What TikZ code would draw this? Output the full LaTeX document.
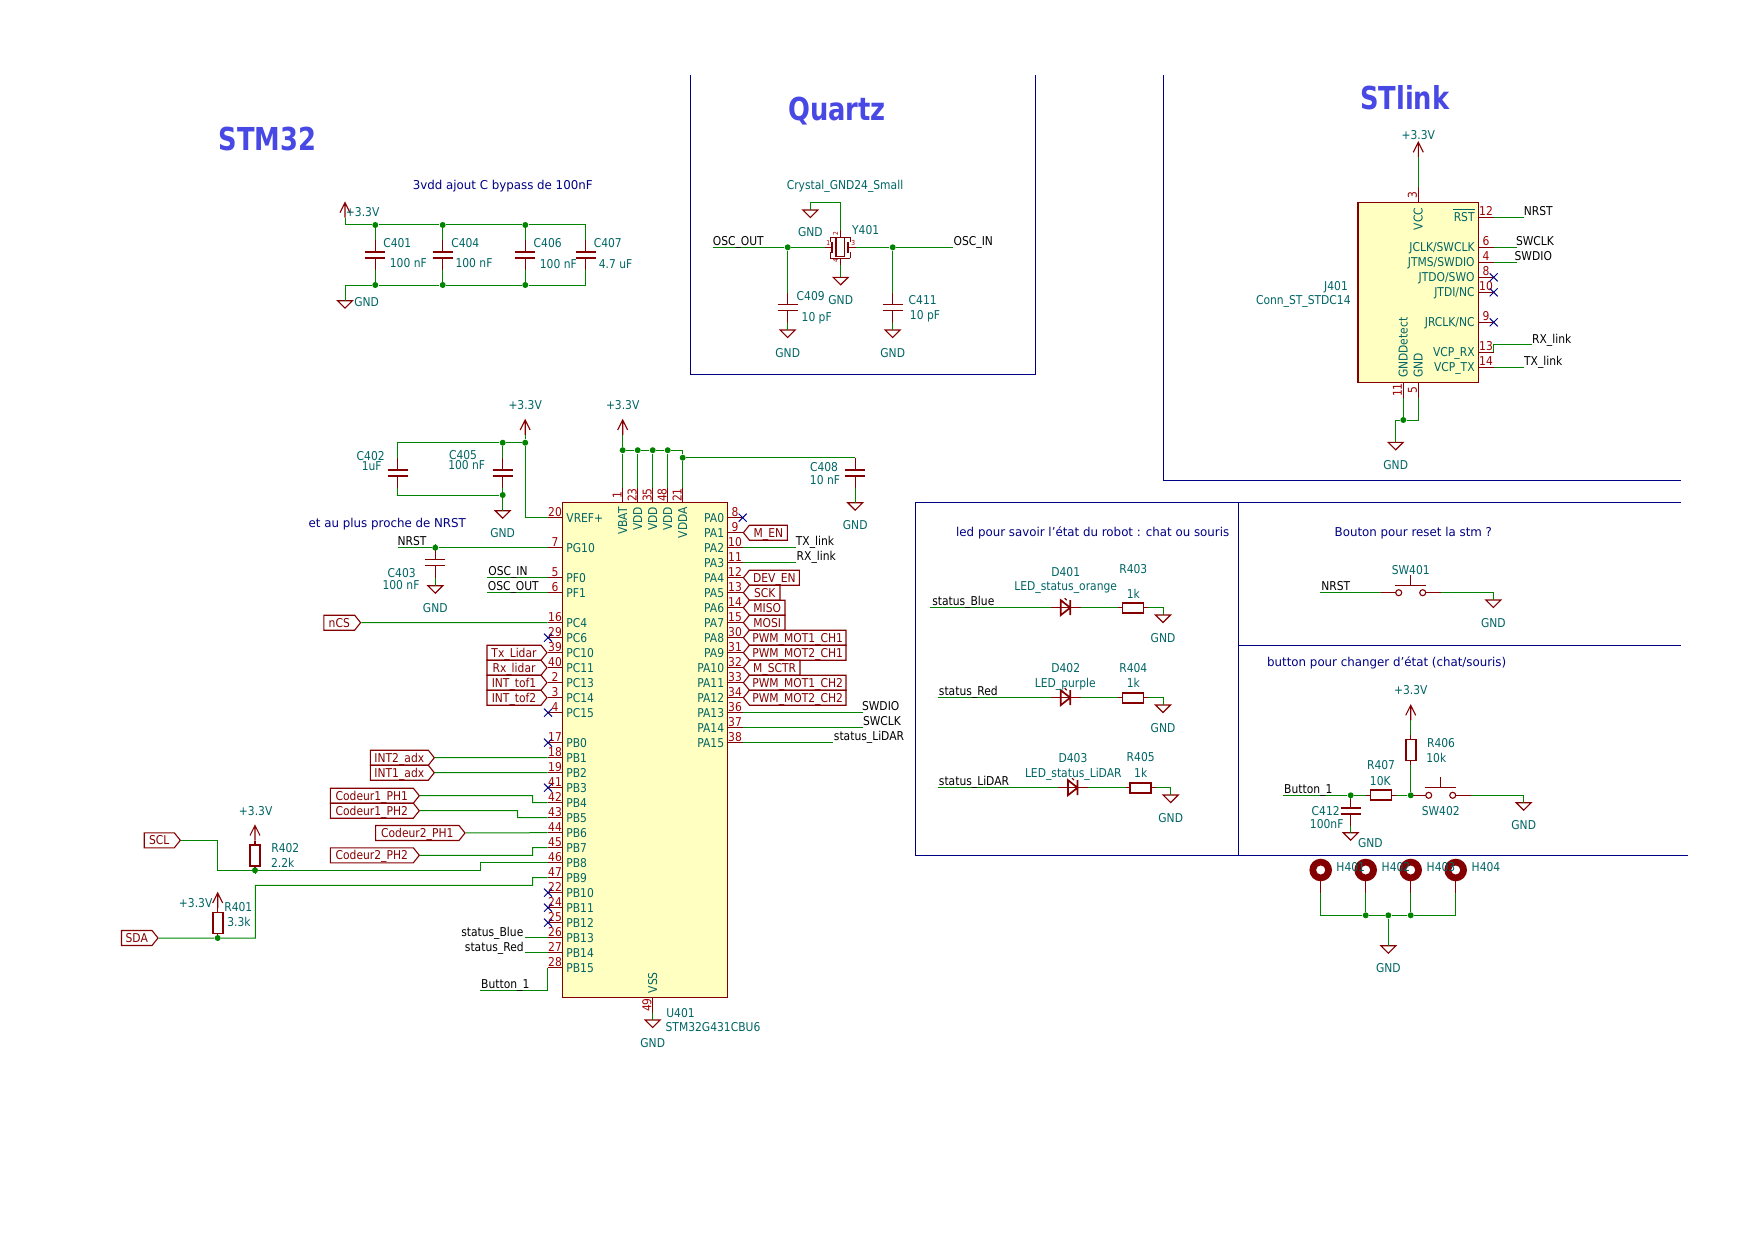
\documentclass[tikz,border=0pt]{standalone}
\usepackage{fontspec}
\setmainfont{DejaVu Sans}[FakeStretch=0.88]
\newfontfamily\notefont{DejaVu Sans}[FakeStretch=0.97]
\newfontfamily\titlefont{DejaVu Sans Bold}[FakeStretch=0.815]
\usetikzlibrary{shapes.symbols}
\definecolor{symline}{RGB}{132,0,0}
\definecolor{chipfill}{RGB}{255,255,194}
\definecolor{wirecol}{RGB}{0,132,0}
\definecolor{valcol}{RGB}{0,100,100}
\definecolor{notecol}{RGB}{0,0,132}
\definecolor{numcol}{RGB}{160,0,0}
\definecolor{titlecol}{RGB}{72,72,228}

\begin{document}
\begin{tikzpicture}[x=0.5pt, y=-0.5pt,
  pinl/.style={draw=symline, line width=0.55pt},
  plate/.style={draw=symline, line width=0.85pt},
  wire/.style={draw=wirecol, line width=0.5pt},
  sheet/.style={draw=notecol, line width=0.5pt},
  nc/.style={draw=notecol, line width=0.5pt},
  chip/.style={draw=symline, line width=0.75pt, fill=chipfill, inner sep=0pt},
  junc/.style={circle, fill=wirecol, minimum size=3pt, inner sep=0pt},
  txt/.style={font=\fontsize{6.1}{7}\selectfont, inner sep=0pt, text height=4.4pt, text depth=0pt},
  val/.style={txt, text=valcol},
  num/.style={txt, text=numcol},
  net/.style={txt, text=black},
  note/.style={txt, font=\notefont\fontsize{6.1}{7}\selectfont, text=notecol},
  ttl/.style={font=\titlefont\fontsize{15.8}{18}\selectfont, text=titlecol, inner sep=0pt},
  hlab/.style={txt, text=symline, shape=signal, draw=symline, line width=0.55pt,
               signal pointer angle=103, inner xsep=1.5pt, inner ysep=0pt, minimum height=7.5pt},
  gndp/.pic={\coordinate (-a) at (0,0);
    \draw[pinl] (-7.5,0) -- (7.5,0) -- (0,7.5) -- cycle;},
  pwrp/.pic={\coordinate (-a) at (0,0);
    \draw[pinl] (0,0) -- (0,-15) (-5,-5) -- (0,-15) -- (5,-5);},
  capv/.pic={\coordinate (-a) at (0,-15); \coordinate (-b) at (0,15);
    \draw[pinl] (-a) -- (0,-3) (0,3) -- (-b);
    \draw[plate] (-10,-3) -- (10,-3) (-10,3) -- (10,3);},
  resv/.pic={\coordinate (-a) at (0,-15); \coordinate (-b) at (0,15);
    \draw[pinl] (-a) -- (0,-10.5) (0,10.5) -- (-b);
    \draw[plate] (-5,-10.5) rectangle (5,10.5);},
  resh/.pic={\coordinate (-a) at (-15,0); \coordinate (-b) at (15,0);
    \draw[pinl] (-a) -- (-10.5,0) (10.5,0) -- (-b);
    \draw[plate] (-10.5,-5) rectangle (10.5,5);},
  ledp/.pic={\coordinate (-a) at (-15,0); \coordinate (-b) at (15,0);
    \draw[pinl] (-a) -- (-b);
    \draw[plate] (-5,-7.5) -- (4.5,0) -- (-5,7.5) -- cycle (4.5,-7.5) -- (4.5,7.5);
    \draw[pinl] (1,-7.5) -- (-1,-9.5) (-2,-5) -- (-4,-7);},
  swtp/.pic={\coordinate (-a) at (-30,0); \coordinate (-b) at (30,0);
    \draw[pinl] (-a) -- (-15,0) (15,0) -- (-b);
    \draw[pinl] (-12,0) circle (3) (12,0) circle (3);
    \draw[pinl] (-15.5,-7.5) -- (15.5,-7.5) (0,-7.5) -- (0,-18);},
  holep/.pic={\coordinate (-a) at (0,23);
    \fill[symline, even odd rule] (0,0) circle (11.3) (0,0) circle (4.6);
    \draw[pinl] (0,11) -- (-a);},
  xtalp/.pic={\coordinate (-a) at (-15.7,0); \coordinate (-b) at (15.3,0);
    \coordinate (-t) at (0,-17); \coordinate (-s) at (0,18);
    \draw[pinl] (-a) -- (-8.4,0) (7.6,0) -- (-b) (-t) -- (0,-10) (0,10.7) -- (-s);
    \draw[pinl] (-4.7,-9.6) rectangle (4,9.4);
    \draw[plate] (-8.4,-5.6) -- (-8.4,6) (7.6,-5.6) -- (7.6,6);
    \draw[pinl, line width=0.35pt] (-10.7,-10) -- (9.3,-10) (-10.7,10.7) -- (9.3,10.7)
      (-10.7,-10) -- (-10.7,-5) (9.3,-10) -- (9.3,-5) (-10.7,10.7) -- (-10.7,5) (9.3,10.7) -- (9.3,5);
    \node[num, font=\fontsize{3.4}{4}\selectfont, text height=2.5pt] (-n1) at (-12.5,-4.5) {1};
    \node[num, font=\fontsize{3.4}{4}\selectfont, text height=2.5pt] (-n3) at (12.5,-4.5) {3};
    \node[num, font=\fontsize{3.4}{4}\selectfont, text height=2.5pt, rotate=90] (-n2) at (-5,-14) {2};
    \node[num, font=\fontsize{3.4}{4}\selectfont, text height=2.5pt, rotate=90] (-n4) at (-5,13) {4};},
]
\useasboundingbox (0,0) rectangle (1755,1241);

% ---- Sheet frames ----
\draw[sheet] (690.7,75) -- (690.7,374.7) -- (1035.3,374.7) -- (1035.3,75);
\draw[sheet] (1163,75) -- (1163,480.2) -- (1681,480.2);
\draw[sheet] (1681,502.5) -- (915.7,502.5) -- (915.7,855.8) -- (1688,855.8);
\draw[sheet] (1238.3,502.5) -- (1238.3,855.8);
\draw[sheet] (1238.3,645.3) -- (1681,645.3);

% ---- Chips and their pins ----
\node[chip, minimum width=82.5pt, minimum height=247.5pt] (u401) at (645.2,750.2) {};
\node[chip, minimum width=60.35pt, minimum height=90.2pt] (j401) at (1418.35,292.5) {};

\foreach \n/\p/\y in {VREF+/20/517.7, PG10/7/547.7, PF0/5/577.7, PF1/6/592.7, PC4/16/622.7,
    PC6/29/637.7, PC10/39/652.7, PC11/40/667.7, PC13/2/682.7, PC14/3/697.7, PC15/4/712.7,
    PB0/17/742.7, PB1/18/757.7, PB2/19/772.7, PB3/41/787.7, PB4/42/802.7, PB5/43/817.7,
    PB6/44/832.7, PB7/45/847.7, PB8/46/862.7, PB9/47/877.7, PB10/22/892.7, PB11/24/907.7,
    PB12/25/922.7, PB13/26/937.7, PB14/27/952.7, PB15/28/967.7} {
  \coordinate (u\p) at (547.7,\y);
  \draw[pinl] (u\p) -- ++(15,0);
  \node[num] (ui\p) at (555,\y-6) {\p};
  \node[val, anchor=west] (un\p) at (566,\y) {\n};
}
\foreach \n/\p/\y in {PA0/8/517.7, PA1/9/532.7, PA2/10/547.7, PA3/11/562.7, PA4/12/577.7,
    PA5/13/592.7, PA6/14/607.7, PA7/15/622.7, PA8/30/637.7, PA9/31/652.7, PA10/32/667.7,
    PA11/33/682.7, PA12/34/697.7, PA13/36/712.7, PA14/37/727.7, PA15/38/742.7} {
  \coordinate (u\p) at (742.7,\y);
  \draw[pinl] (u\p) -- ++(-15,0);
  \node[num] (ui\p) at (735,\y-6) {\p};
  \node[val, anchor=east] (un\p) at (724.5,\y) {\n};
}
\foreach \n/\p/\x in {VBAT/1/622.7, VDD/23/637.7, VDD/35/652.7, VDD/48/667.7, VDDA/21/682.7} {
  \coordinate (u\p) at (\x,487.7);
  \draw[pinl] (u\p) -- ++(0,15);
  \node[num, rotate=90] (ui\p) at (\x-5.5,495) {\p};
  \node[val, rotate=90, anchor=east] (un\p) at (\x,506.7) {\n};
}
\coordinate (u49) at (652.7,1012.7);
\draw[pinl] (u49) -- ++(0,-15);
\node[num, rotate=90] (ui49) at (647,1005) {49};
\node[val, rotate=90, anchor=west] (un49) at (652.7,993.7) {VSS};

\foreach \n/\p/\y in {RST/12/217.3, JCLK{/}SWCLK/6/247.3, JTMS{/}SWDIO/4/262.3, JTDO{/}SWO/8/277.3,
    JTDI{/}NC/10/292.3, JRCLK{/}NC/9/322.3, VCP\_RX/13/352.3, VCP\_TX/14/367.3} {
  \coordinate (s\p) at (1493.7,\y);
  \draw[pinl] (s\p) -- ++(-15,0);
  \node[num] (si\p) at (1486,\y-6) {\p};
  \node[val, anchor=east] (sn\p) at (1475,\y) {\n};
}
\draw[valcol, line width=0.4pt] ([yshift=1.5pt]sn12.north west) -- ([yshift=1.5pt]sn12.north east);
\coordinate (s3) at (1418.3,187.3);
\coordinate (s11) at (1403.3,397.7);
\coordinate (s5) at (1418.3,397.7);
\draw[pinl] (s3) -- ++(0,15) (s11) -- ++(0,-15) (s5) -- ++(0,-15);
\node[num, rotate=90] (si3) at (1412.5,195) {3};
\node[num, rotate=90] (si11) at (1397.5,390) {11};
\node[num, rotate=90] (si5) at (1412.5,390) {5};
\node[val, rotate=90, anchor=east] (sn3) at (1418.3,207.3) {VCC};
\node[val, rotate=90, anchor=west] (sn11) at (1403.3,378.3) {GNDDetect};
\node[val, rotate=90, anchor=west] (sn5) at (1418.3,378.3) {GND};

% ---- Not connected marks ----
\foreach \x/\y in {742.7/517.7, 548/637.7, 548/712.7, 548/742.7, 548/787.7, 548/892.7, 548/907.7,
    548/922.7, 1493.7/277.3, 1493.7/292.3, 1493.7/322.3}
  \draw[nc] (\x-4,\y-4) -- (\x+4,\y+4) (\x-4,\y+4) -- (\x+4,\y-4);

% ---- Parts ----
\foreach \id/\x/\y in {c401/375.3/254.7, c404/442.7/254.7, c406/525.3/254.7, c407/585.7/254.7,
    c402/397.7/472.7, c405/502.7/472.7, c403/435.3/562.5, c408/855.2/472.7,
    c409/787.7/307.5, c411/892.7/307.5, c412/1350.7/811}
  \pic (\id) at (\x,\y) {capv};
\foreach \id/\x/\y in {r402/255/855.5, r401/217.7/923, r406/1410.7/750}
  \pic (\id) at (\x,\y) {resv};
\foreach \id/\x/\y in {r403/1133.1/607.7, r404/1133.1/697.7, r405/1140.6/787.7, r407/1380.9/795.3}
  \pic (\id) at (\x,\y) {resh};
\foreach \id/\x/\y in {d401/1065.7/607.7, d402/1065.7/697.7, d403/1073/787.7}
  \pic (\id) at (\x,\y) {ledp};
\foreach \id/\x/\y in {sw401/1410.7/592.7, sw402/1440.7/795.3}
  \pic (\id) at (\x,\y) {swtp};
\foreach \id/\x in {h401/1320.7, h402/1365.7, h403/1410.7, h404/1455.7}
  \pic (\id) at (\x,870) {holep};
\pic (y401) at (840.7,247.3) {xtalp};

% ---- Power and ground symbols ----
\foreach \id/\x/\y in {vbyp/345/217.7, vref/525.2/435, vbat/622.7/435, vscl/255/840.5,
    vsda/217.7/908, vstl/1418.3/157.3, vbtn/1410.7/720.3}
  \pic (\id) at (\x,\y) {pwrp};
\foreach \id/\x/\y in {gbyp/345/300.7, gref/502.7/510.7, gnrs/435.3/585.7, gvda/855.2/502.7,
    gvss/652.7/1020, gc9/787.7/330, gc11/892.7/330, gxt/810.3/210, gxb/840.7/277.3,
    gstl/1395.7/442.3, gd1/1163/615, gd2/1163/705, gd3/1170.7/795, gsw1/1493.3/600,
    gsw2/1523.7/802.7, gc12/1350.7/832.7, ghole/1388.3/945.7}
  \pic (\id) at (\x,\y) {gndp};

% ---- Hierarchical labels ----
\foreach \id/\txt/\x/\y/\w in {ncs/nCS/361.3/622.7/36.7, txl/Tx\_Lidar/547.7/652.7/60,
    rxl/Rx\_lidar/547.7/667.7/60, itf1/INT\_tof1/547.7/682.7/60, itf2/INT\_tof2/547.7/697.7/60,
    int2/INT2\_adx/435/757.7/64, int1/INT1\_adx/435/772.7/64, cod1a/Codeur1\_PH1/420/795.7/89,
    cod1b/Codeur1\_PH2/420/810.7/89, cod2a/Codeur2\_PH1/465.7/833/89.4,
    cod2b/Codeur2\_PH2/420/855.3/89, scl/SCL/181/840.3/36, sda/SDA/158.7/938/36.5}
  \node[hlab, signal to=east, anchor=east, minimum width=\w*0.5pt] (\id) at (\x,\y) {\txt};
\foreach \id/\txt/\y/\w in {men/M\_EN/532.7/44, deven/DEV\_EN/577.7/56, sck/SCK/592.7/36.6,
    miso/MISO/607.7/41.6, mosi/MOSI/622.7/41.6, pwm1a/PWM\_MOT1\_CH1/637.7/102.6,
    pwm2a/PWM\_MOT2\_CH1/652.7/102.6, msctr/M\_SCTR/667.7/56.6,
    pwm1b/PWM\_MOT1\_CH2/682.7/102.6, pwm2b/PWM\_MOT2\_CH2/697.7/102.6}
  \node[hlab, signal to=west, anchor=west, minimum width=\w*0.5pt] (\id) at (742.7,\y) {\txt};

% ---- Junctions ----
\foreach \id/\x/\y in {jb1t/375.3/225, jb2t/442.7/225, jb3t/525.3/225, jb1b/375.3/285,
    jb2b/442.7/285, jb3b/525.3/285, jv1/525.2/442.7, jv2/502.7/442.7, jg1/502.7/495,
    jn1/435.3/547.7, jt1/622.7/450.2, jt2/637.7/450.2, jt3/652.7/450.2, jt4/667.7/450.2,
    jvda/682.7/457.7, jscl/255/870.3, jsda/217.7/938, jq1/787.7/247.3, jq2/892.7/247.3,
    js1/1403.3/420, jb1/1350.7/795.3, jb2/1410.7/795.3, jh2/1365.7/915.3, jh3/1388.3/915.3,
    jh4/1410.7/915.3}
  \node[junc] (\id) at (\x,\y) {};

% ---- Free wire ends ----
\foreach \id/\x/\y in {nnrs/397.7/547.7, nosi/487.3/577.7, noso/487.3/592.7, nstb/525.3/937.7,
    nstr/525.3/952.7, nbtn/480/990.3, ntx/795.7/547.7, nrx/795.7/562.7, nswd/863.3/712.7,
    nswc/863.3/727.7, nsta/833.3/742.7, qout/712.7/247.3, qin/953.3/247.3, qc/810.3/202.3,
    e42/532.7/795.7, e43/517.7/810.7, e45/532.7/855.3, e46/480.3/870.3, e46b/217.7/870.3,
    e47/532.7/885.3, e47b/255.3/885.3, lnrs/1524/217.3, lswc/1516.7/247.3, lswd/1516.7/262.3,
    lrx/1531.7/344.7, ltx/1524/367.3, dblu/930/607.7, dred/937.7/697.7, dlid/937.7/787.7,
    swn/1320/592.7, btn/1283.3/795.3}
  \coordinate (\id) at (\x,\y);

% ---- Wires ----
\draw[wire] (vbyp-a) |- (jb1t) -- (jb2t) -- (jb3t) -| (c407-a);
\draw[wire] (gbyp-a) |- (jb1b) -- (jb2b) -- (jb3b) -| (c407-b);
\foreach \cp/\top/\bot in {c401/jb1t/jb1b, c404/jb2t/jb2b, c406/jb3t/jb3b}
  \draw[wire] (\top) -- (\cp-a) (\cp-b) -- (\bot);
\draw[wire] (u20) -| (jv1) -- (vref-a);
\draw[wire] (jv1) -- (jv2) -| (c402-a);
\draw[wire] (c402-b) |- (jg1);
\draw[wire] (jv2) -- (c405-a) (c405-b) -- (jg1) -- (gref-a);
\draw[wire] (nnrs) -- (jn1) -- (u7);
\draw[wire] (jn1) -- (c403-a) (c403-b) -- (gnrs-a);
\draw[wire] (nosi) -- (u5);
\draw[wire] (noso) -- (u6);
\draw[wire] (ncs) -- (u16);
\draw[wire] (int2) -- (u18);
\draw[wire] (int1) -- (u19);
\draw[wire] (cod1a) -- (e42) |- (u42);
\draw[wire] (cod1b) -- (e43) |- (u43);
\draw[wire] (cod2a) -- (u44);
\draw[wire] (cod2b) -- (e45) |- (u45);
\draw[wire] (u46) -| (e46) -- (jscl) -- (e46b) |- (scl);
\draw[wire] (jscl) -- (r402-b);
\draw[wire] (vscl-a) -- (r402-a);
\draw[wire] (u47) -| (e47) -- (e47b) |- (jsda) -- (sda);
\draw[wire] (jsda) -- (r401-b);
\draw[wire] (vsda-a) -- (r401-a);
\draw[wire] (nstb) -- (u26);
\draw[wire] (nstr) -- (u27);
\draw[wire] (u28) |- (nbtn);
\draw[wire] (u49) -- (gvss-a);
\draw[wire] (jt1) -- (jt2) -- (jt3) -- (jt4) -| (jvda);
\foreach \a/\b in {u1/jt1, u23/jt2, u35/jt3, u48/jt4, u21/jvda, jt1/vbat-a}
  \draw[wire] (\a) -- (\b);
\draw[wire] (jvda) -- (c408-a) (c408-b) -- (gvda-a);
\foreach \a/\b in {u10/ntx, u11/nrx, u36/nswd, u37/nswc, u38/nsta}
  \draw[wire] (\a) -- (\b);

\draw[wire] (qout) -- (jq1) -- (y401-a) (y401-b) -- (jq2) -- (qin);
\draw[wire] (jq1) -- (c409-a) (c409-b) -- (gc9-a);
\draw[wire] (jq2) -- (c411-a) (c411-b) -- (gc11-a);
\draw[wire] (y401-t) |- (qc) -- (gxt-a);
\draw[wire] (y401-s) -- (gxb-a);

\draw[wire] (vstl-a) -- (s3);
\draw[wire] (s12) -- (lnrs);
\draw[wire] (s6) -- (lswc);
\draw[wire] (s4) -- (lswd);
\draw[wire] (s13) |- (lrx);
\draw[wire] (s14) -- (ltx);
\draw[wire] (s11) -- (js1) -| (gstl-a);
\draw[wire] (s5) |- (js1);

\draw[wire] (dblu) -- (d401-a) (d401-b) -- (r403-a) (r403-b) -| (gd1-a);
\draw[wire] (dred) -- (d402-a) (d402-b) -- (r404-a) (r404-b) -| (gd2-a);
\draw[wire] (dlid) -- (d403-a) (d403-b) -- (r405-a) (r405-b) -| (gd3-a);
\draw[wire] (swn) -- (sw401-a) (sw401-b) -| (gsw1-a);
\draw[wire] (btn) -- (jb1) -- (r407-a) (r407-b) -- (jb2) -- (sw402-a) (sw402-b) -| (gsw2-a);
\draw[wire] (jb1) -- (c412-a) (c412-b) -- (gc12-a);
\draw[wire] (vbtn-a) -- (r406-a) (r406-b) -- (jb2);
\draw[wire] (h401-a) |- (jh2) -- (jh3) -- (jh4) -| (h404-a);
\draw[wire] (h402-a) -- (jh2) (h403-a) -- (jh4) (jh3) -- (ghole-a);

% ---- Labels ----
\foreach \id/\txt/\x/\y in {tc401/C401/397.3/242.7, vc401/100 nF/408.3/263.2, tc404/C404/465.3/242.7,
    vc404/100 nF/474/263.2, tc406/C406/547.7/242.7, vc406/100 nF/558.3/264.5, tc407/C407/607.8/242.7,
    vc407/4.7 uF/615.6/264.5, tc402/C402/370.7/456, vc402/1uF/371.7/465.7, tc405/C405/463/454.7,
    vc405/100 nF/466.7/465, tc403/C403/401.7/573.3, vc403/100 nF/401/585.3, tc408/C408/824/467,
    vc408/10 nF/825/480, tc409/C409/810.7/295.7, vc409/10 pF/816.7/316.7, tc411/C411/922.7/300,
    vc411/10 pF/925/315.3, tc412/C412/1325.7/810.7, vc412/100nF/1326.7/824,
    tr402/R402/285.3/848, vr402/2.2k/282.7/863, tr401/R401/238.3/906.7, vr401/3.3k/239/921.7,
    tr403/R403/1133.3/568.7, vr403/1k/1133.3/593.7, tr404/R404/1133.3/668, vr404/1k/1133.3/683,
    tr405/R405/1140.7/757.3, vr405/1k/1140.7/773, tr406/R406/1441/743, vr406/10k/1436.3/758,
    tr407/R407/1381/765.3, vr407/10K/1380.3/780.7, td401/D401/1065.7/572,
    vd401/LED\_status\_orange/1065.7/585.7, td402/D402/1065.7/667.7, vd402/LED\_purple/1065.3/683.3,
    td403/D403/1073/757.7, vd403/LED\_status\_LiDAR/1073.3/773.3, tsw1/SW401/1410.7/570.3,
    tsw2/SW402/1440.7/810.7, th1/H401/1350.7/866.7, th2/H402/1396/866.7, th3/H403/1441/866.7,
    th4/H404/1486/866.7, ty/Y401/865.7/230, vy/Crystal\_GND24\_Small/845/184.7,
    tj/J401/1336/285.7, vj/Conn\_ST\_STDC14/1303.3/300, tu/U401/680.5/1013,
    vu/STM32G431CBU6/713/1027.5,
    p1/+3.3V/362.7/211.7, p2/+3.3V/525.2/405, p3/+3.3V/622.7/405, p4/+3.3V/255.7/810.7,
    p5/+3.3V/195.7/903.3, p6/+3.3V/1418.3/135.3, p7/+3.3V/1410.7/690.3,
    g1/GND/366.7/301.7, g2/GND/502.7/532.7, g3/GND/435.3/607.7, g4/GND/855.2/525,
    g5/GND/652.7/1043, g6/GND/787.7/352.7, g7/GND/892.7/352.7, g8/GND/810.3/232.3,
    g9/GND/840.7/300, g10/GND/1395.7/465.3, g11/GND/1163/637.7, g12/GND/1163/728,
    g13/GND/1170.7/818, g14/GND/1493.3/622.7, g15/GND/1523.7/825.3, g16/GND/1370.3/843.3,
    g17/GND/1388.3/967.7}
  \node[val] (\id) at (\x,\y) {\txt};

\foreach \id/\txt/\x/\y in {lb1/NRST/412/541, lb2/OSC\_IN/508/571.3, lb3/OSC\_OUT/513.3/586.3,
    lb4/status\_Blue/492.3/931.7, lb5/status\_Red/494.3/946.7, lb6/Button\_1/505.3/984.3,
    lb7/TX\_link/815/541.3, lb8/RX\_link/816.3/556.3, lb9/SWDIO/880.7/706.3, lb10/SWCLK/882/721.3,
    lb11/status\_LiDAR/869/736.3, lb12/OSC\_OUT/738.3/241.3, lb13/OSC\_IN/973.3/241.3,
    lb14/NRST/1538.3/211, lb15/SWCLK/1535/241, lb16/SWDIO/1533.3/256, lb17/RX\_link/1551.7/338.7,
    lb18/TX\_link/1543.3/361, lb19/status\_Blue/963.3/601.3, lb20/status\_Red/968.3/691.3,
    lb21/status\_LiDAR/974/781.3, lb22/NRST/1335.7/586, lb23/Button\_1/1308.3/789}
  \node[net] (\id) at (\x,\y) {\txt};

\node[note] (nbyp) at (502.7,184.7) {3vdd ajout C bypass de 100nF};
\node[note] (nnrst) at (387.3,522.7) {et au plus proche de NRST};
\node[note] (nled) at (1092.7,531.7) {led pour savoir l’état du robot : chat ou souris};
\node[note] (nrst) at (1413.3,531.7) {Bouton pour reset la stm ?};
\node[note] (nbut) at (1386.7,662.3) {button pour changer d’état (chat/souris)};

\node[ttl] (tstm) at (267.5,139) {STM32};
\node[ttl] (tqua) at (837,111) {Quartz};
\node[ttl] (tstl) at (1404.7,97.4) {STlink};
\end{tikzpicture}
\end{document}
